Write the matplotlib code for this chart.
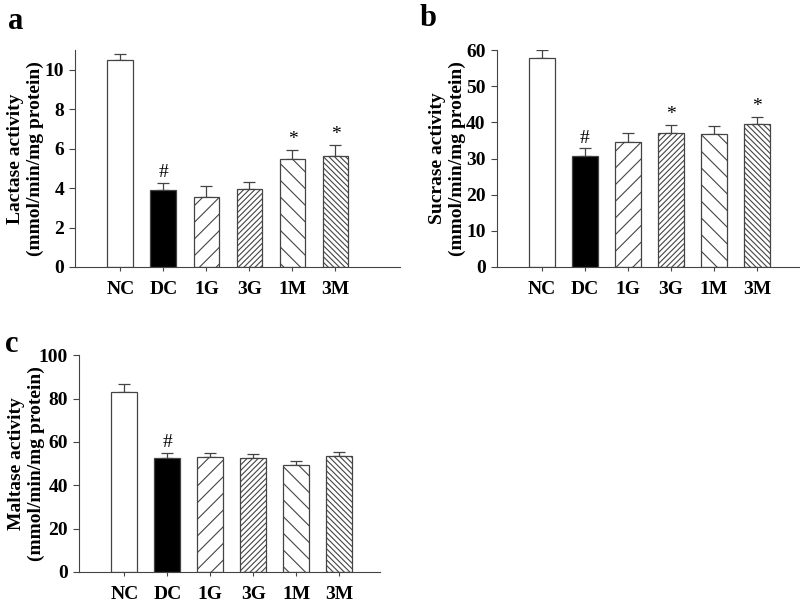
import matplotlib
matplotlib.use('Agg')
import matplotlib.pyplot as plt

plt.rcParams['font.family'] = ['Liberation Serif', 'DejaVu Serif']
plt.rcParams['font.weight'] = 'bold'
plt.rcParams['hatch.linewidth'] = 0.8

groups = ['NC', 'DC', '1G', '3G', '1M', '3M']

lactase = [10.5, 3.9, 3.55, 3.95, 5.5, 5.65]
lactase_err = [0.3, 0.35, 0.55, 0.35, 0.45, 0.55]
lactase_marks = ['', '#', '', '', '*', '*']

sucrase = [57.8, 30.6, 34.6, 37.2, 36.7, 39.6]
sucrase_err = [2.2, 2.2, 2.4, 2.1, 2.2, 1.9]
sucrase_marks = ['', '#', '', '*', '', '*']

maltase = [83.0, 52.5, 53.2, 52.4, 49.3, 53.4]
maltase_err = [3.5, 2.5, 1.8, 1.9, 2.0, 2.1]
maltase_marks = ['', '#', '', '', '', '']

fills = ['white', 'black', 'white', 'white', 'white', 'white']
hatches = ['', '', '//', '//////', '\\\\', '\\\\\\\\\\\\']


def draw_panel(ax, values, errs, marks, ylim, yticks, ylabel, xlim, label_x):
    x = range(len(groups))
    ax.bar(x, values, width=0.6, color=fills, edgecolor='#444444',
           linewidth=0.9, hatch=hatches, zorder=2)
    ax.errorbar(x, values, yerr=[[0] * len(errs), errs], fmt='none',
                ecolor='#444444', elinewidth=0.9, capsize=4, capthick=0.9,
                zorder=1)
    step = yticks[1] - yticks[0]
    for i, m in enumerate(marks):
        if m:
            ax.text(i, values[i] + errs[i] + step * 0.05, m, ha='center',
                    va='bottom', fontsize=14, fontweight='normal')
    ax.set_xlim(*xlim)
    ax.set_ylim(*ylim)
    ax.set_yticks(yticks)
    ax.set_xticks(list(x))
    ax.set_xticklabels(groups, fontsize=14, fontweight='bold')
    ax.tick_params(axis='x', length=3, width=0.8, pad=7, colors='#444444',
                   labelcolor='black')
    ax.tick_params(axis='y', length=4, width=0.8, labelsize=14, colors='#444444',
                   labelcolor='black', pad=4)
    for lab in ax.get_yticklabels():
        lab.set_fontweight('bold')
    ax.spines['top'].set_visible(False)
    ax.spines['right'].set_visible(False)
    ax.spines['left'].set_color('#444444')
    ax.spines['bottom'].set_color('#444444')
    ax.set_ylabel(ylabel, fontsize=14, fontweight='bold', linespacing=1.2,
                  va='center')
    ax.yaxis.set_label_coords(label_x, 0.5)


fig = plt.figure(figsize=(8, 6.04), dpi=100)

ax_a = fig.add_axes([0.094, 0.558, 0.406, 0.359])
draw_panel(ax_a, lactase, lactase_err, lactase_marks, (0, 11), [0, 2, 4, 6, 8, 10],
           'Lactase activity\n(mmol/min/mg protein)', (-1.05, 6.5), -0.152)

ax_b = fig.add_axes([0.621, 0.558, 0.379, 0.359])
draw_panel(ax_b, sucrase, sucrase_err, sucrase_marks, (0, 60), [0, 10, 20, 30, 40, 50, 60],
           'Sucrase activity\n(mmol/min/mg protein)', (-1.05, 6.0), -0.163)

ax_c = fig.add_axes([0.099, 0.053, 0.376, 0.359])
draw_panel(ax_c, maltase, maltase_err, maltase_marks, (0, 100), [0, 20, 40, 60, 80, 100],
           'Maltase activity\n(mmol/min/mg protein)', (-1.05, 5.95), -0.174)

fig.text(0.01, 0.965, 'a', fontsize=22, fontweight='bold', va='center')
fig.text(0.525, 0.97, 'b', fontsize=22, fontweight='bold', va='center')
fig.text(0.006, 0.43, 'c', fontsize=22, fontweight='bold', va='center')

fig.savefig('out.png', dpi=100)
